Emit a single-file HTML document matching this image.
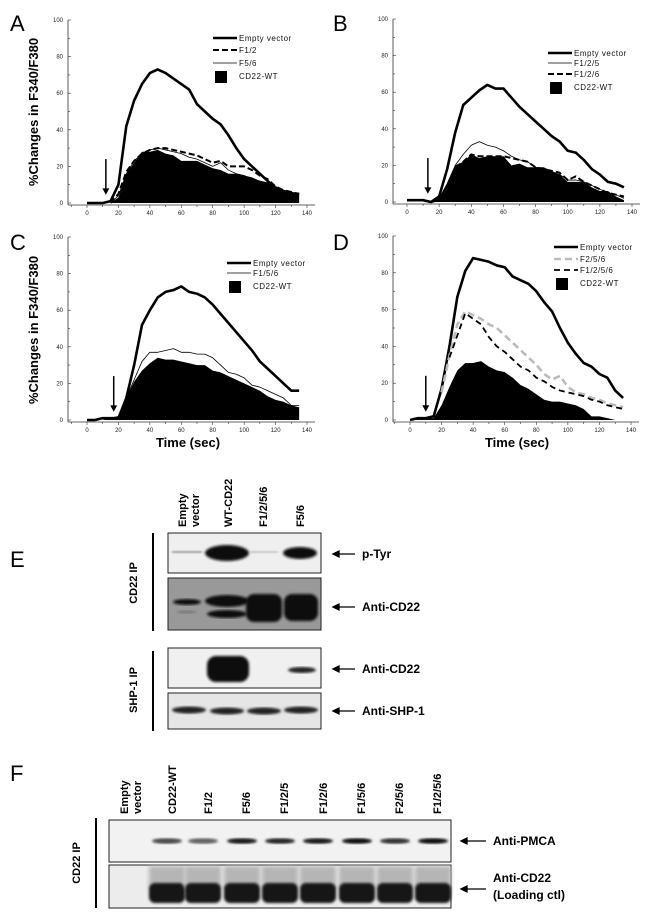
<!DOCTYPE html>
<html><head><meta charset="utf-8">
<style>
body{margin:0;background:#fff;}
svg{display:block;font-family:"Liberation Sans",Arial,sans-serif;}
.tk{font-size:6px;fill:#222;}
.lg{font-size:8px;fill:#111;letter-spacing:0.5px;}
.b{font-weight:bold;}
</style></head>
<body>
<svg id="fig" width="650" height="923" viewBox="0 0 650 923">
<defs>
<filter id="bl1"><feGaussianBlur stdDeviation="1.2"/></filter>
<filter id="bl2"><feGaussianBlur stdDeviation="2.2"/></filter>
</defs>
<g id="charts"></g>

<text x="10" y="31" font-size="22">A</text>
<text x="333" y="31" font-size="22">B</text>
<text x="10" y="250" font-size="22">C</text>
<text x="333" y="250" font-size="22">D</text>
<text x="10" y="567" font-size="22">E</text>
<text x="10" y="781" font-size="22">F</text>

<g>
<g class="b" font-size="11">
<text transform="translate(186,527) rotate(-90)">Empty</text>
<text transform="translate(199,527) rotate(-90)">vector</text>
<text transform="translate(232,527) rotate(-90)">WT-CD22</text>
<text transform="translate(267,527) rotate(-90)">F1/2/5/6</text>
<text transform="translate(304,527) rotate(-90)">F5/6</text>
</g>
<line x1="153" y1="533" x2="153" y2="631" stroke="#000" stroke-width="2"/>
<line x1="153" y1="651" x2="153" y2="731" stroke="#000" stroke-width="2"/>
<text transform="translate(137,583) rotate(-90)" text-anchor="middle" class="b" font-size="11">CD22 IP</text>
<text transform="translate(137,690) rotate(-90)" text-anchor="middle" class="b" font-size="11">SHP-1 IP</text>

<g>
<rect x="168" y="533" width="153" height="40" fill="#efefef" stroke="#222"/>
<rect x="172" y="551" width="30" height="2" fill="#888" filter="url(#bl1)"/>
<ellipse cx="227" cy="553" rx="22" ry="8" fill="#111" filter="url(#bl1)"/>
<rect x="250" y="551" width="28" height="2" fill="#bbb" filter="url(#bl1)"/>
<ellipse cx="300" cy="553" rx="17" ry="6" fill="#111" filter="url(#bl1)"/>
</g>
<g>
<rect x="168" y="578" width="153" height="52" fill="#999" stroke="#222"/>
<ellipse cx="187" cy="602" rx="14" ry="3" fill="#111" filter="url(#bl1)"/>
<ellipse cx="187" cy="612" rx="10" ry="1.5" fill="#777" filter="url(#bl1)"/>
<ellipse cx="227" cy="601" rx="22" ry="6" fill="#111" filter="url(#bl1)"/>
<ellipse cx="227" cy="614" rx="20" ry="4" fill="#111" filter="url(#bl1)"/>
<rect x="246" y="594" width="36" height="28" rx="8" fill="#0e0e0e" filter="url(#bl1)"/>
<rect x="284" y="594" width="34" height="27" rx="8" fill="#0e0e0e" filter="url(#bl1)"/>
</g>
<g>
<rect x="168" y="648" width="153" height="40" fill="#f0f0f0" stroke="#222"/>
<rect x="207" y="656" width="42" height="26" rx="9" fill="#111" filter="url(#bl1)"/>
<ellipse cx="302" cy="670" rx="14" ry="3" fill="#222" filter="url(#bl1)"/>
</g>
<g>
<rect x="168" y="693" width="153" height="36" fill="#e6e6e6" stroke="#222"/>
<ellipse cx="189" cy="710" rx="17" ry="3.5" fill="#222" filter="url(#bl1)"/>
<ellipse cx="227" cy="711" rx="17" ry="3.5" fill="#222" filter="url(#bl1)"/>
<ellipse cx="264" cy="711" rx="17" ry="3.5" fill="#222" filter="url(#bl1)"/>
<ellipse cx="301" cy="710" rx="17" ry="3.5" fill="#222" filter="url(#bl1)"/>
</g>
<g class="b" font-size="12">
<text x="362" y="558">p-Tyr</text>
<text x="362" y="611">Anti-CD22</text>
<text x="362" y="673">Anti-CD22</text>
<text x="362" y="715">Anti-SHP-1</text>
</g>
<g stroke="#000" stroke-width="1.3" fill="#000">
<line x1="337" y1="554" x2="355" y2="554"/><path d="M333 554 l6 -3 v6z"/>
<line x1="337" y1="607" x2="355" y2="607"/><path d="M333 607 l6 -3 v6z"/>
<line x1="337" y1="669" x2="355" y2="669"/><path d="M333 669 l6 -3 v6z"/>
<line x1="337" y1="711" x2="355" y2="711"/><path d="M333 711 l6 -3 v6z"/>
</g>
</g>

<g>
<g class="b" font-size="11">
<text transform="translate(128,814) rotate(-90)">Empty</text>
<text transform="translate(141,814) rotate(-90)">vector</text>
<text transform="translate(176,814) rotate(-90)">CD22-WT</text>
<text transform="translate(212,814) rotate(-90)">F1/2</text>
<text transform="translate(250,814) rotate(-90)">F5/6</text>
<text transform="translate(288,814) rotate(-90)">F1/2/5</text>
<text transform="translate(327,814) rotate(-90)">F1/2/6</text>
<text transform="translate(365,814) rotate(-90)">F1/5/6</text>
<text transform="translate(403,814) rotate(-90)">F2/5/6</text>
<text transform="translate(441,814) rotate(-90)">F1/2/5/6</text>
</g>
<line x1="96" y1="818" x2="96" y2="908" stroke="#000" stroke-width="2"/>
<text transform="translate(80,863) rotate(-90)" text-anchor="middle" class="b" font-size="11">CD22 IP</text>
<rect x="109" y="820" width="342" height="42" fill="#f2f2f2" stroke="#222"/>
<rect x="109" y="865" width="342" height="43" fill="#ececec" stroke="#222"/>
<g id="fbands"></g>
<g class="b" font-size="12">
<text x="493" y="845">Anti-PMCA</text>
<text x="493" y="882">Anti-CD22</text>
<text x="493" y="899">(Loading ctl)</text>
</g>
<g stroke="#000" stroke-width="1.3" fill="#000">
<line x1="466" y1="841" x2="486" y2="841"/><path d="M461 841 l6 -3 v6z"/>
<line x1="466" y1="889" x2="486" y2="889"/><path d="M461 889 l6 -3 v6z"/>
</g>
</g>

<text transform="translate(38,112) rotate(-90)" text-anchor="middle" class="b" font-size="13">%Changes in F340/F380</text>
<text transform="translate(38,330) rotate(-90)" text-anchor="middle" class="b" font-size="13">%Changes in F340/F380</text>
<text x="188" y="447" text-anchor="middle" class="b" font-size="13">Time (sec)</text>
<text x="517" y="447" text-anchor="middle" class="b" font-size="13">Time (sec)</text>
</svg>
<script>
const NS="http://www.w3.org/2000/svg";
const times=[0,5,10,15,20,25,30,35,40,45,50,55,60,65,70,75,80,85,90,95,100,105,110,115,120,125,130,135];
const yTicks=[0,20,40,60,80,100];
const xTicks=[0,20,40,60,80,100,120,140];
const aEmpty=[0,0,0,1,10,42,56,65,71,73,71,68,65,62,54,50,46,43,37,30,24,20,16,12,8,6,5,5];
const aF12=[null,null,null,0,5,17,23,27,29,30,30,29,28,27,26,24,22,23,20,20,20,18,15,13,9,7,6,5];
const aF56=[null,null,null,0,4,16,23,27,29,30,29,28,27,25,24,22,20,22,18,16,15,13,12,11,9,7,6,5];
const aWT=[0,0,0,0,3,16,22,28,28,29,27,26,23,23,23,21,19,18,16,16,15,14,12,11,9,7,6,5];
const bEmpty=[1,1,1,0,3,18,38,53,57,61,64,62,62,57,52,48,44,40,36,33,28,27,23,18,15,11,10,8];
const bF125=[null,null,null,0,2,10,20,26,31,33,31,30,28,25,23,22,19,18,16,15,12,12,11,9,7,5,4,2];
const bF126=[null,null,null,0,1,9,19,22,26,25,25,25,25,24,23,22,19,18,17,16,12,14,11,9,7,5,4,3];
const bWT=[0,0,0,0,2,10,20,22,26,24,25,25,25,20,21,19,19,19,17,15,11,11,11,8,6,6,3,1];
const cEmpty=[0,0,1,1,1,12,30,52,60,67,70,71,73,70,69,67,63,58,53,48,43,38,32,28,24,20,16,16];
const cF156=[null,null,null,1,2,12,22,32,37,37,38,39,37,37,36,36,34,30,26,25,23,19,18,16,14,12,8,8];
const cWT=[0,0,0,1,1,12,21,27,31,34,33,33,32,31,30,30,27,26,24,22,20,18,16,13,11,10,8,7];
const dEmpty=[0,1,1,2,17,40,67,81,88,87,86,84,83,78,76,74,70,64,59,50,42,36,31,29,25,23,16,12];
const dF256=[null,null,null,null,15,35,52,59,57,55,52,50,46,42,38,34,30,25,22,24,18,15,14,12,11,9,8,7];
const dF1256=[null,null,null,null,null,34,46,58,55,52,45,40,37,33,29,27,23,21,18,16,15,14,13,11,10,8,7,6];
const dWT=[0,1,1,1,8,18,27,31,31,32,29,27,26,23,19,17,14,11,10,10,9,8,6,2,2,1,0,0];
const arrowT=[12,13,17,10];
const legA=["Empty vector","F1/2","F5/6","CD22-WT"];
const legB=["Empty vector","F1/2/5","F1/2/6","CD22-WT"];
const legC=["Empty vector","F1/5/6","CD22-WT"];
const legD=["Empty vector","F2/5/6","F1/2/5/6","CD22-WT"];

const panels=[
 {id:"a",x0:87,x1:307,y0:203,y1:20,ax:68,arrow:arrowT[0],fill:aWT,
  lines:[{d:aEmpty,w:2.6,c:"#000",dash:""},{d:aF12,w:2,c:"#000",dash:"6 3"},{d:aF56,w:0.8,c:"#000",dash:""}],
  leg:legA,lx:213,ly:[38,50,63,77]},
 {id:"b",x0:407,x1:632,y0:202,y1:19,ax:393,arrow:arrowT[1],fill:bWT,
  lines:[{d:bEmpty,w:2.6,c:"#000",dash:""},{d:bF125,w:0.8,c:"#000",dash:""},{d:bF126,w:2,c:"#000",dash:"6 3"}],
  leg:legB,lx:548,ly:[53,63,74,88]},
 {id:"c",x0:87,x1:307,y0:420,y1:237,ax:68,arrow:arrowT[2],fill:cWT,
  lines:[{d:cEmpty,w:2.6,c:"#000",dash:""},{d:cF156,w:0.8,c:"#000",dash:""}],
  leg:legC,lx:227,ly:[263,273,287]},
 {id:"d",x0:410,x1:631,y0:420,y1:236,ax:393,arrow:arrowT[3],fill:dWT,
  lines:[{d:dEmpty,w:2.6,c:"#000",dash:""},{d:dF256,w:2.6,c:"#bbb",dash:"7 4"},{d:dF1256,w:1.8,c:"#000",dash:"6 4"}],
  leg:legD,lx:554,ly:[247,259,270,284]}
];
const root=document.getElementById("charts");
function mk(tag,attrs,parent){const e=document.createElementNS(NS,tag);for(const k in attrs)e.setAttribute(k,attrs[k]);parent.appendChild(e);return e;}

panels.forEach(p=>{
 const sx=t=>p.x0+(t/140)*(p.x1-p.x0);
 const sy=v=>p.y0+(v/100)*(p.y1-p.y0);
 const g=mk("g",{},root);
 
 
 const ya=mk("line",{x1:p.ax,y1:p.y1,x2:p.ax,y2:p.y0+2,stroke:"#333","stroke-width":0.8},g);
 
 
 const xa=mk("line",{x1:p.ax,y1:p.y0+2,x2:p.x1+8,y2:p.y0+2,stroke:"#333","stroke-width":0.8},g);
 
 
 for(let v=0;v<=100;v+=10){
  mk("line",{x1:p.ax,y1:sy(v),x2:p.ax+(v%20==0?3:2),y2:sy(v),stroke:"#333","stroke-width":0.6},g);
 }
 yTicks.forEach(v=>{
  const t=mk("text",{x:p.ax-5,y:sy(v)+2,"text-anchor":"end",class:"tk"},g);t.textContent=v;
  
  
 });
 for(let tt=-10;tt<=150;tt+=10){
  const X=sx(tt); if(X<p.ax||X>p.x1+8)continue;
  mk("line",{x1:X,y1:p.y0+2,x2:X,y2:p.y0+(tt%20==0?5:4),stroke:"#333","stroke-width":0.6},g);
 }
 xTicks.forEach(v=>{
  const t=mk("text",{x:sx(v),y:p.y0+12,"text-anchor":"middle",class:"tk"},g);t.textContent=v;
  
  
 });
 let d="M"+sx(times[0])+","+sy(0);
 times.forEach((t,i)=>{d+=" L"+sx(t)+","+sy(p.fill[i]);});
 d+=" L"+sx(times[times.length-1])+","+sy(0)+"Z";
 const area=mk("path",{d:d,fill:"#000"},g);
 
 
 p.lines.forEach((L,li)=>{
  let s="",started=false;
  times.forEach((t,i)=>{const v=L.d[i];if(v===null||v===undefined)return;s+=(started?" L":"M")+sx(t)+","+sy(v);started=true;});
  const pl=mk("path",{d:s,fill:"none",stroke:L.c,"stroke-width":L.w,"stroke-dasharray":L.dash,"stroke-linejoin":"round"},g);
  
  
 });
 const ax=sx(p.arrow);
 const ar=mk("g",{},g);
 
 
 mk("line",{x1:ax,y1:sy(24),x2:ax,y2:sy(7),stroke:"#000","stroke-width":1.5},ar);
 mk("path",{d:`M${ax-3.5},${sy(8)} L${ax+3.5},${sy(8)} L${ax},${sy(4.5)}Z`,fill:"#000"},ar);
 const lg=mk("g",{},g);
 
 
 p.leg.forEach((lab,i)=>{
  const y=p.ly[i];
  if(i<p.lines.length){
   const L=p.lines[i];
   mk("line",{x1:p.lx,y1:y,x2:p.lx+24,y2:y,stroke:L.c,"stroke-width":L.w,"stroke-dasharray":L.dash},lg);
   const t=mk("text",{x:p.lx+26,y:y+3,class:"lg"},lg);t.textContent=lab;
   
   
  } else {
   mk("rect",{x:p.lx+2,y:y-6,width:12,height:12,fill:"#000"},lg);
   const t=mk("text",{x:p.lx+26,y:y+2,class:"lg"},lg);t.textContent=lab;
   
   
  }
 });
});

const fLanes=[167,203,242,280,318,357,395,433];
const pmcaInt=[0.7,0.6,0.9,0.85,0.9,0.95,0.8,0.95];
const fb=document.getElementById("fbands");
fLanes.forEach((x,i)=>{
 const b=mk("ellipse",{cx:x,cy:841,rx:15,ry:2.8,fill:"#000","fill-opacity":pmcaInt[i],filter:"url(#bl1)"},fb);
 
 
 mk("rect",{x:x-18,y:866,width:36,height:22,fill:"#b5b5b5",filter:"url(#bl2)"},fb);
 const c=mk("rect",{x:x-18,y:883,width:36,height:20,rx:6,fill:"#141414",filter:"url(#bl1)"},fb);
 
 
});
</script>
</body></html>
